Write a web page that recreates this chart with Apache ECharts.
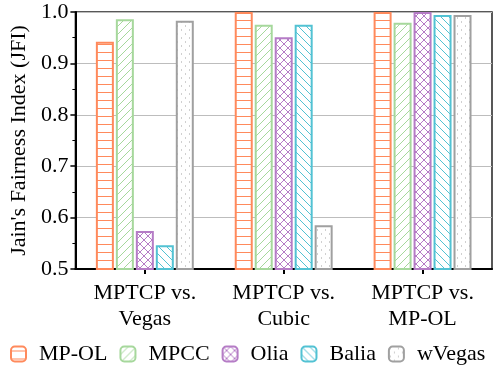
<!DOCTYPE html>
<html><head><meta charset="utf-8">
<script src="https://cdn.jsdelivr.net/npm/echarts@6/dist/echarts.min.js"></script>
<style>html,body{margin:0;padding:0;background:#fff}#c{width:495px;height:367px}</style>
</head><body><div id="c"></div>
<script>
const categories = ['MPTCP vs.\nVegas', 'MPTCP vs.\nCubic', 'MPTCP vs.\nMP-OL'];
const seriesNames = ['MP-OL', 'MPCC', 'Olia', 'Balia', 'wVegas'];
const mpol   = [0.942, 1.000, 1.000];
const mpcc   = [0.986, 0.975, 0.979];
const olia   = [0.574, 0.951, 1.000];
const balia  = [0.546, 0.975, 0.994];
const wvegas = [0.983, 0.585, 0.994];
const yTicks = [0.5, 0.6, 0.7, 0.8, 0.9, 1.0];

const colors = ['#FF8A5C', '#A6D89C', '#B57CC6', '#52C2D3', '#A0A0A0'];

function makePattern(kind, color) {
  const c = document.createElement('canvas');
  const s = 8;
  c.width = s; c.height = s;
  const g = c.getContext('2d');
  g.fillStyle = '#fff'; g.fillRect(0, 0, s, s);
  g.strokeStyle = color; g.fillStyle = color; g.lineWidth = 1;
  if (kind === 'h') {
    g.beginPath(); g.moveTo(0, 4.5); g.lineTo(s, 4.5); g.stroke();
  } else if (kind === 'f') {
    g.beginPath(); g.moveTo(0, s); g.lineTo(s, 0); g.stroke();
    g.beginPath(); g.moveTo(-1, 1); g.lineTo(1, -1); g.stroke();
    g.beginPath(); g.moveTo(s - 1, s + 1); g.lineTo(s + 1, s - 1); g.stroke();
  } else if (kind === 'b') {
    g.beginPath(); g.moveTo(0, 0); g.lineTo(s, s); g.stroke();
    g.beginPath(); g.moveTo(-1, s - 1); g.lineTo(1, s + 1); g.stroke();
    g.beginPath(); g.moveTo(s - 1, -1); g.lineTo(s + 1, 1); g.stroke();
  } else if (kind === 'x') {
    g.beginPath(); g.moveTo(0, 0); g.lineTo(s, s); g.stroke();
    g.beginPath(); g.moveTo(0, s); g.lineTo(s, 0); g.stroke();
  } else if (kind === 'd') {
    g.fillStyle = '#D0D0D0';
    g.fillRect(1, 1, 1, 2); g.fillRect(5, 5, 1, 2);
  }
  return { image: c, repeat: 'repeat' };
}
const kinds = ['h', 'f', 'x', 'b', 'd'];
const dataArr = [mpol, mpcc, olia, balia, wvegas];

const font = 'Liberation Serif';
const chart = echarts.init(document.getElementById('c'), null, { renderer: 'canvas' });
const series = seriesNames.map((n, i) => ({
  name: n, type: 'bar', data: dataArr[i],
  barWidth: 18, barGap: '11%',
  itemStyle: { color: makePattern(kinds[i], colors[i]), borderColor: colors[i], borderWidth: 2 },
  emphasis: { disabled: true }
}));
chart.setOption({
  animation: false,
  textStyle: { fontFamily: font },
  grid: { left: 72, right: 3, top: 12, bottom: 98, show: true, borderColor: '#222', borderWidth: 1.5 },
  legend: {
    bottom: 2, left: 10, width: 485, padding: 0, itemWidth: 15, itemHeight: 15, itemGap: 12,
    textStyle: { fontFamily: font, fontSize: 22, color: '#000', padding: [0, 0, 0, 8] },
    data: seriesNames
  },
  xAxis: {
    type: 'category', data: categories,
    axisLine: { lineStyle: { color: '#000', width: 2 } },
    axisTick: { show: true, alignWithLabel: true, length: 5, lineStyle: { color: '#000', width: 2 } },
    axisLabel: { fontFamily: font, fontSize: 22, color: '#000', lineHeight: 26, margin: 11 }
  },
  yAxis: {
    type: 'value', min: 0.5, max: 1.0, interval: 0.1,
    name: "Jain's Fairness Index (JFI)", nameLocation: 'middle', nameGap: 38,
    nameTextStyle: { fontFamily: font, fontSize: 22, color: '#000' },
    axisLine: { show: true, lineStyle: { color: '#000', width: 2 } },
    axisTick: { show: true, length: 5, lineStyle: { color: '#000', width: 1.5 } },
    minorTick: { show: true, splitNumber: 2, length: 3, lineStyle: { color: '#000' } },
    splitLine: { show: true, lineStyle: { color: '#BDBDBD', width: 1 } },
    axisLabel: { fontFamily: font, fontSize: 22, color: '#000', margin: 7,
      formatter: v => yTicks.some(t => Math.abs(t - v) < 1e-9) ? v.toFixed(1) : '' }
  },
  series: series
});
</script></body></html>
